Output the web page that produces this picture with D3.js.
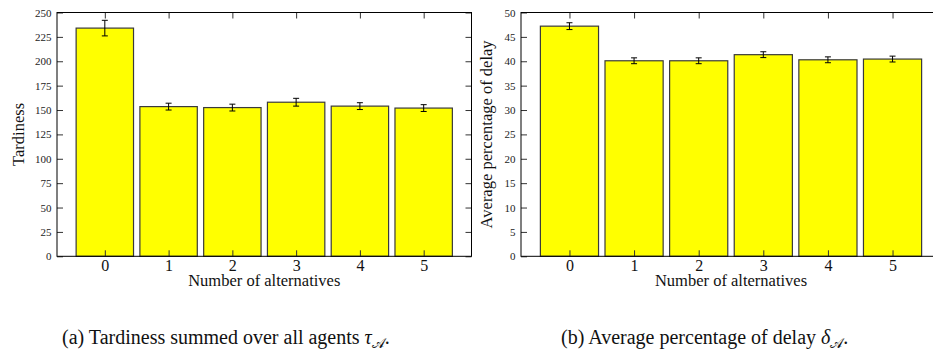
<!DOCTYPE html>
<html>
<head>
<meta charset="utf-8">
<script src="https://cdn.jsdelivr.net/npm/d3@7"></script>
<style>
  body { margin: 0; background: #fff; }
  svg { display: block; font-family: "Liberation Serif", "Times New Roman", serif; }
</style>
</head>
<body>
<div id="chart"></div>
<script>
// values
var alternatives = [0, 1, 2, 3, 4, 5];
var tardiness = [234, 153.5, 152.5, 158, 154, 152];
var tardinessErr = [8, 3.5, 3.5, 4, 3.5, 3.5];
var delayPct = [47.2, 40.1, 40.1, 41.35, 40.3, 40.45];
var delayErr = [0.7, 0.6, 0.6, 0.6, 0.6, 0.6];
var tardinessTicks = [0, 25, 50, 75, 100, 125, 150, 175, 200, 225, 250];
var delayTicks = [0, 5, 10, 15, 20, 25, 30, 35, 40, 45, 50];

var svgWidth = 933;
var svgHeight = 349;

var svg = d3.select("#chart")
  .append("svg")
  .attr("width", svgWidth)
  .attr("height", svgHeight);

//draw one gnuplot-like bar panel
function drawPanel(p) {
  var x = d3.scaleLinear()
    .domain([-0.75, 5.75])
    .range([p.left, p.right]);

  var y = d3.scaleLinear()
    .domain([0, p.yMax])
    .range([p.bottom, p.top]);

  var g = svg.append("g");

  // bars
  g.selectAll("rect.bar")
    .data(p.values)
    .enter()
    .append("rect")
    .attr("class", "bar")
    .attr("x", (d, i) => x(alternatives[i] - 0.45))
    .attr("width", (d, i) => x(alternatives[i] + 0.45) - x(alternatives[i] - 0.45))
    .attr("y", d => y(d))
    .attr("height", d => y(0) - y(d))
    .attr("fill", "#ffff00")
    .attr("stroke", "#3a3a3a")
    .attr("stroke-width", 1.2);

  // error bars
  var err = g.selectAll("g.err")
    .data(p.values)
    .enter()
    .append("g")
    .attr("class", "err")
    .attr("stroke", "#000")
    .attr("stroke-width", 1);

  err.append("line")
    .attr("x1", (d, i) => x(alternatives[i]))
    .attr("x2", (d, i) => x(alternatives[i]))
    .attr("y1", (d, i) => y(d + p.errors[i]))
    .attr("y2", (d, i) => y(d - p.errors[i]));
  err.append("line")
    .attr("x1", (d, i) => x(alternatives[i]) - 3)
    .attr("x2", (d, i) => x(alternatives[i]) + 3)
    .attr("y1", (d, i) => y(d + p.errors[i]))
    .attr("y2", (d, i) => y(d + p.errors[i]));
  err.append("line")
    .attr("x1", (d, i) => x(alternatives[i]) - 3)
    .attr("x2", (d, i) => x(alternatives[i]) + 3)
    .attr("y1", (d, i) => y(d - p.errors[i]))
    .attr("y2", (d, i) => y(d - p.errors[i]));

  // axes, ticks pointing inward
  var leftAxis = g.append("g")
    .attr("transform", `translate(${p.left},0)`)
    .call(d3.axisLeft(y).tickValues(p.ticks).tickSize(-6).tickSizeOuter(0).tickPadding(5.5));
  leftAxis.selectAll("text")
    .attr("font-size", "11px")
    .attr("font-family", "Liberation Serif")
    .attr("fill", "#222");

  g.append("g")
    .attr("transform", `translate(${p.right},0)`)
    .call(d3.axisRight(y).tickValues(p.ticks).tickSize(-6).tickSizeOuter(0).tickFormat(""));

  var bottomAxis = g.append("g")
    .attr("transform", `translate(0,${p.bottom})`)
    .call(d3.axisBottom(x).tickValues(alternatives).tickSize(-6).tickSizeOuter(0).tickFormat(d3.format("d")));
  bottomAxis.selectAll("text")
    .attr("y", 14.5)
    .attr("dy", 0)
    .attr("font-size", "16px")
    .attr("font-family", "Liberation Serif")
    .attr("fill", "#111");

  g.append("g")
    .attr("transform", `translate(0,${p.top})`)
    .call(d3.axisTop(x).tickValues(alternatives).tickSize(-6).tickSizeOuter(0).tickFormat(""));

  g.selectAll(".domain").remove();
  g.selectAll(".tick line").attr("stroke", "#333");

  // frame
  g.append("rect")
    .attr("x", p.left)
    .attr("y", p.top)
    .attr("width", p.right - p.left)
    .attr("height", p.bottom - p.top)
    .attr("fill", "none")
    .attr("stroke", "#000")
    .attr("stroke-width", 1);

  // axis titles
  g.append("text")
    .attr("x", (p.left + p.right) / 2)
    .attr("y", 285.5)
    .attr("text-anchor", "middle")
    .attr("font-size", "16.5px")
    .attr("fill", "#111")
    .text("Number of alternatives");

  g.append("text")
    .attr("transform", `translate(${p.yLabelX},${(p.top + p.bottom) / 2}) rotate(-90)`)
    .attr("text-anchor", "middle")
    .attr("font-size", "16.5px")
    .attr("fill", "#111")
    .text(p.yLabel);

  // sub caption
  var cap = svg.append("text")
    .attr("x", p.capX)
    .attr("y", 344)
    .attr("font-size", "20px")
    .attr("fill", "#111");
  cap.append("tspan").text(p.caption);
  cap.append("tspan").attr("font-style", "italic").text(p.symbol);
  cap.append("tspan")
    .attr("font-family", "DejaVu Sans, Noto Sans, serif")
    .attr("font-size", "14px")
    .attr("dy", 4)
    .text("𝒜");
  cap.append("tspan").attr("dy", -4).text(".");
}

drawPanel({
  left: 57, right: 471.5, top: 12.5, bottom: 256.3,
  yMax: 250, values: tardiness, errors: tardinessErr, ticks: tardinessTicks,
  yLabel: "Tardiness", yLabelX: 24,
  caption: "(a) Tardiness summed over all agents ", symbol: "τ", capX: 62
});

drawPanel({
  left: 521, right: 941, top: 12.5, bottom: 256.3,
  yMax: 50, values: delayPct, errors: delayErr, ticks: delayTicks,
  yLabel: "Average percentage of delay", yLabelX: 492,
  caption: "(b) Average percentage of delay ", symbol: "δ", capX: 561
});
</script>
</body>
</html>
